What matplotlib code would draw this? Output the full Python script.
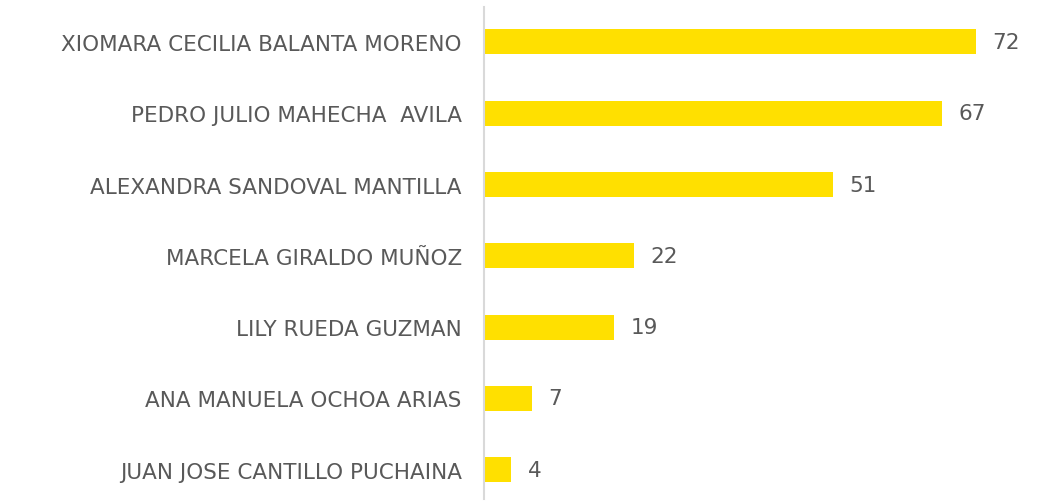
import matplotlib
matplotlib.use("Agg")
import matplotlib.pyplot as plt

names = ["XIOMARA CECILIA BALANTA MORENO", "PEDRO JULIO MAHECHA  AVILA",
         "ALEXANDRA SANDOVAL MANTILLA", "MARCELA GIRALDO MUÑOZ",
         "LILY RUEDA GUZMAN", "ANA MANUELA OCHOA ARIAS",
         "JUAN JOSE CANTILLO PUCHAINA"]
values = [72, 67, 51, 22, 19, 7, 4]

BAR_COL = "#FFE000"
TXT_COL = "#595959"

fig = plt.figure(figsize=(10.46, 5.02), dpi=100)
ax = fig.add_axes([0.4627, 0.004, 0.523, 0.980])

pos = list(range(len(names)))
ax.barh(pos, values, height=0.35, color=BAR_COL, left=0)
ax.set_xlim(0, 80)
ax.set_ylim(6.41, -0.49)

ax.set_yticks(pos)
ax.set_yticklabels(names, fontsize=15.5, color=TXT_COL)
ax.tick_params(axis="y", length=0, pad=16)
ax.set_xticks([])

for s in ["top", "right", "bottom"]:
    ax.spines[s].set_visible(False)
ax.spines["left"].set_color("#D9D9D9")
ax.spines["left"].set_linewidth(1.5)

for p, v in zip(pos, values):
    ax.text(v + 2.4, p, str(v), va="center", ha="left",
            fontsize=15.5, color=TXT_COL)

fig.savefig("out.png", dpi=100)
